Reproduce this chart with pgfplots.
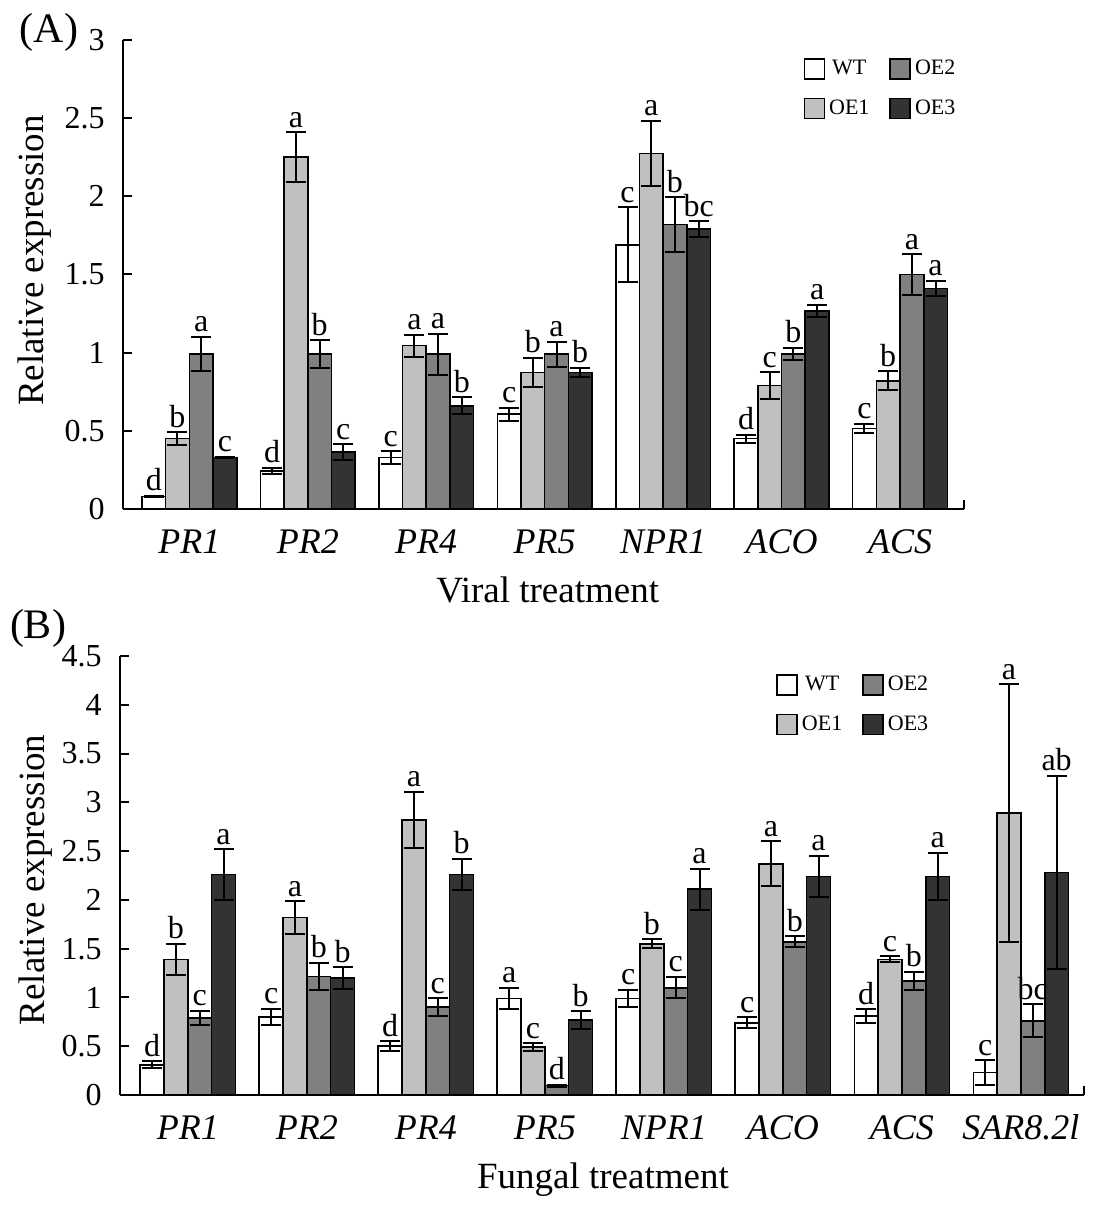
\documentclass[border=0pt]{standalone}
\usepackage{pgfplots}
\usepackage{pgfplotstable}
\pgfplotsset{compat=1.18}
\usepackage{fontspec}
\setmainfont{Liberation Serif}
\definecolor{cWT}{HTML}{FFFFFF}
\definecolor{cOEa}{HTML}{C0C0C0}
\definecolor{cOEb}{HTML}{808080}
\definecolor{cOEc}{HTML}{333333}

% Panel A (viral)
\pgfplotstableread{
x y err lab
0 0.08 0.005 d
1 0.245 0.02 d
2 0.33 0.04 c
3 0.606 0.04 c
4 1.69 0.24 c
5 0.45 0.025 d
6 0.515 0.03 c
}\AWT
\pgfplotstableread{
x y err lab
0 0.45 0.04 b
1 2.25 0.16 a
2 1.045 0.07 a
3 0.874 0.095 b
4 2.275 0.21 a
5 0.79 0.085 c
6 0.82 0.06 b
}\AOEa
\pgfplotstableread{
x y err lab
0 0.99 0.11 a
1 0.99 0.09 b
2 0.99 0.13 a
3 0.99 0.08 a
4 1.82 0.175 b
5 0.99 0.04 b
6 1.50 0.13 a
}\AOEb
\pgfplotstableread{
x y err lab
0 0.33 0.005 c
1 0.364 0.05 c
2 0.66 0.055 b
3 0.874 0.03 b
4 1.79 0.05 bc
5 1.265 0.04 a
6 1.41 0.05 a
}\AOEc

% Panel B (fungal)
\pgfplotstableread{
x y err lab
0 0.31 0.035 d
1 0.80 0.085 c
2 0.50 0.05 d
3 0.99 0.11 a
4 0.99 0.09 c
5 0.74 0.055 c
6 0.81 0.07 d
7 0.23 0.125 c
}\BWT
\pgfplotstableread{
x y err lab
0 1.39 0.16 b
1 1.82 0.165 a
2 2.82 0.29 a
3 0.49 0.04 c
4 1.55 0.045 b
5 2.37 0.23 a
6 1.39 0.03 c
7 2.89 1.32 a
}\BOEa
\pgfplotstableread{
x y err lab
0 0.79 0.075 c
1 1.215 0.14 b
2 0.90 0.09 c
3 0.096 0.01 d
4 1.10 0.11 c
5 1.57 0.055 b
6 1.17 0.09 b
7 0.76 0.17 bc
}\BOEb
\pgfplotstableread{
x y err lab
0 2.26 0.26 a
1 1.20 0.11 b
2 2.26 0.16 b
3 0.77 0.09 b
4 2.11 0.21 a
5 2.24 0.21 a
6 2.24 0.245 a
7 2.28 0.99 ab
}\BOEc

\pgfplotsset{
  panel/.style={
    scale only axis,
    ybar, bar width=0.2,
    axis x line*=bottom, axis y line*=left,
    axis line style={line width=1pt},
    tick align=inside,
    ytick style={line width=1pt, black},
    major tick length=4.5pt,
    /pgf/number format/assume math mode=true,
    yticklabel style={font=\fontsize{16}{16}\selectfont, anchor=east, inner sep=0pt, xshift=-9pt},
    xticklabel style={font=\fontsize{18}{18}\selectfont\itshape, anchor=base, inner sep=0pt, yshift=-22pt},
    ylabel style={font=\fontsize{18.5}{18.5}\selectfont, anchor=center},
    xlabel style={font=\fontsize{18.5}{18.5}\selectfont, anchor=center},
    xtick style={draw=none},
    nodes near coords,
    point meta=explicit symbolic,
    visualization depends on={\thisrow{err}\as\myerr},
    every node near coord/.append style={font=\fontsize{16}{16}\selectfont, anchor=south, inner sep=0pt, yshift=2pt, shift={(axis direction cs:0,\myerr)}},
    legend style={draw=none, fill=none, font=\fontsize{11}{11}\selectfont, legend columns=2,
      /tikz/every even column/.append style={column sep=8pt}, row sep=7pt, inner sep=0pt},
    legend image code/.code={\draw[#1, line width=0.8pt] (0pt,-5pt) rectangle (10pt,5pt);},
  },
  barst/.style={draw=black, line width=0.8pt, fill=#1, forget plot,
    error bars/y dir=both, error bars/y explicit,
    error bars/error bar style={line width=1pt, black},
    error bars/error mark options={rotate=90, line width=1pt, black, mark size=5pt}},
}

\begin{document}
\begin{tikzpicture}
\path[use as bounding box] (0,0) rectangle (546.5pt,-606.5pt);

% ---------- Panel A ----------
\begin{axis}[panel,
  at={(61.5pt,-254.5pt)}, anchor=south west,
  width=420.5pt, height=234.5pt,
  xmin=-0.56, xmax=6.54, ymin=0, ymax=3,
  ytick={0,0.5,1,1.5,2,2.5,3},
  xtick={0,1,2,3,4,5,6},
  xticklabels={PR1,PR2,PR4,PR5,NPR1,ACO,ACS},
  extra x ticks={6.54}, extra x tick labels={},
  extra x tick style={xtick style={draw=black, line width=1pt}},
  xlabel={Viral treatment},
  xlabel style={at={(axis description cs:0.505,0)}, yshift=-40.5pt},
  ylabel={Relative expression},
  ylabel style={at={(axis description cs:-0.105,0.53)}},
  legend style={at={(0.995,0.966)}, anchor=north east},
]
\addplot[bar shift=-0.3, barst=cWT] table[x=x,y=y,y error=err,meta=lab]{\AWT};
\addplot[bar shift=-0.1, barst=cOEa] table[x=x,y=y,y error=err,meta=lab]{\AOEa};
\addplot[bar shift=0.1, barst=cOEb] table[x=x,y=y,y error=err,meta=lab]{\AOEb};
\addplot[bar shift=0.3, barst=cOEc] table[x=x,y=y,y error=err,meta=lab]{\AOEc};
\addlegendimage{fill=cWT, draw=black}\addlegendentry{WT}
\addlegendimage{fill=cOEb, draw=black}\addlegendentry{OE2}
\addlegendimage{fill=cOEa, draw=black}\addlegendentry{OE1}
\addlegendimage{fill=cOEc, draw=black}\addlegendentry{OE3}
\end{axis}

% ---------- Panel B ----------
\begin{axis}[panel,
  at={(60pt,-547.5pt)}, anchor=south west,
  width=482pt, height=219.5pt,
  xmin=-0.57, xmax=7.53, ymin=0, ymax=4.5,
  ytick={0,0.5,1,1.5,2,2.5,3,3.5,4,4.5},
  xtick={0,1,2,3,4,5,6,7},
  xticklabels={PR1,PR2,PR4,PR5,NPR1,ACO,ACS,SAR8.2l},
  extra x ticks={7.53}, extra x tick labels={},
  extra x tick style={xtick style={draw=black, line width=1pt}},
  xlabel={Fungal treatment},
  xlabel style={at={(axis description cs:0.501,0)}, yshift=-42.5pt},
  ylabel={Relative expression},
  ylabel style={at={(axis description cs:-0.088,0.49)}},
  legend style={at={(0.843,0.964)}, anchor=north east},
]
\addplot[bar shift=-0.3, barst=cWT] table[x=x,y=y,y error=err,meta=lab]{\BWT};
\addplot[bar shift=-0.1, barst=cOEa] table[x=x,y=y,y error=err,meta=lab]{\BOEa};
\addplot[bar shift=0.1, barst=cOEb] table[x=x,y=y,y error=err,meta=lab]{\BOEb};
\addplot[bar shift=0.3, barst=cOEc] table[x=x,y=y,y error=err,meta=lab]{\BOEc};
\addlegendimage{fill=cWT, draw=black}\addlegendentry{WT}
\addlegendimage{fill=cOEb, draw=black}\addlegendentry{OE2}
\addlegendimage{fill=cOEa, draw=black}\addlegendentry{OE1}
\addlegendimage{fill=cOEc, draw=black}\addlegendentry{OE3}
\end{axis}

\node[font=\fontsize{21}{21}\selectfont] at (24.5pt,-16pt) {(A)};
\node[font=\fontsize{21}{21}\selectfont] at (19pt,-314pt) {(B)};
\end{tikzpicture}
\end{document}
